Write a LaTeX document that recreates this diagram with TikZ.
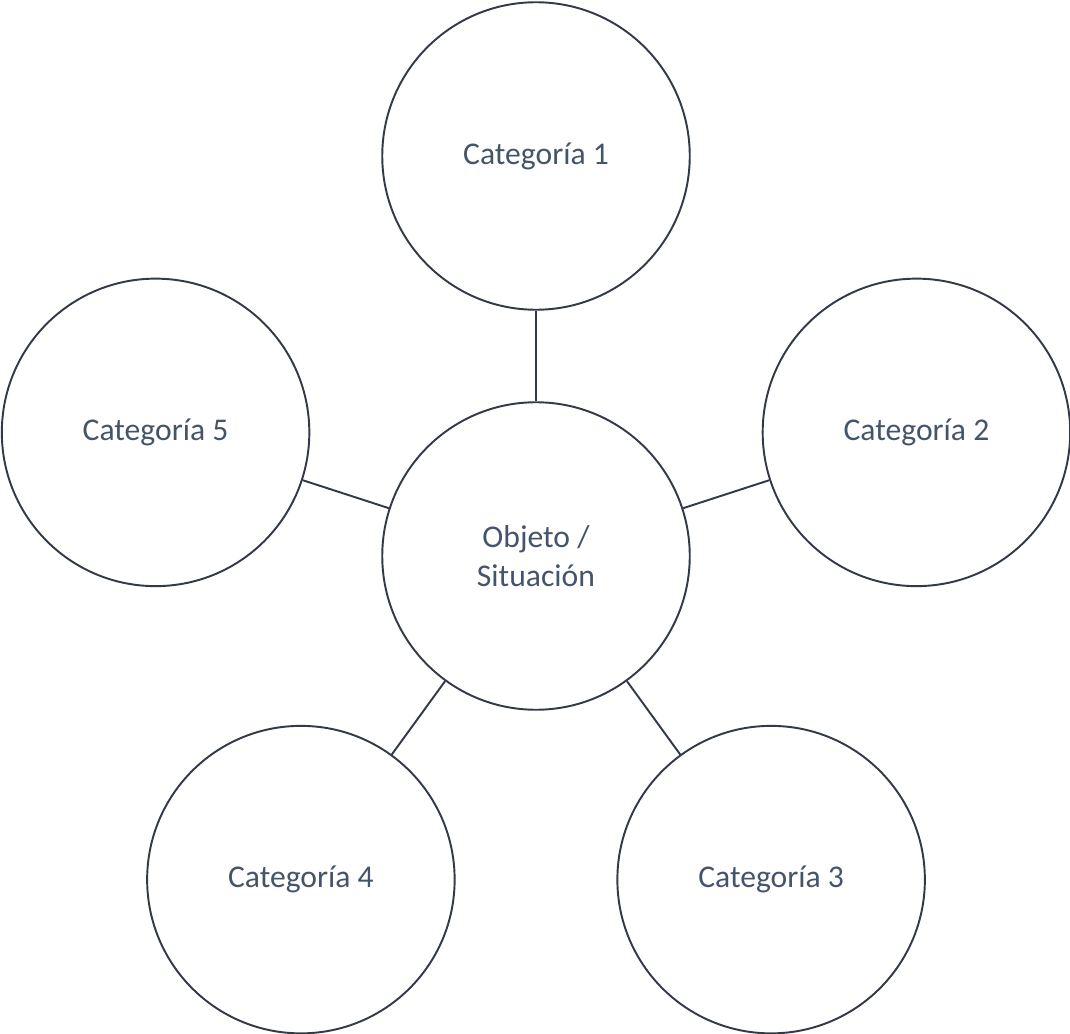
\documentclass[tikz,border=0pt]{standalone}
\usepackage{fontspec}
\setmainfont{Carlito}
\usepackage{tikz}
\tikzset{>=latex}
\definecolor{slategray}{RGB}{68,84,106}
\definecolor{darkline}{RGB}{50,58,72}

\begin{document}
\begin{tikzpicture}[cat/.style={draw=darkline, line width=1.1pt, circle, minimum size=6.15cm, text=slategray, font=\fontsize{18}{22.5}\selectfont, align=center}]
    \useasboundingbox (0,0) rectangle (21.4,-20.68);
    \node at (10.72,-11.12) [cat](O){Objeto /\\Situación};

    % categories around the centre
    \foreach \i/\a in {1/90,2/18,3/-54,4/-126,5/162}
    {
    \node at (O.center) [cat, shift={(\a:8)}](C\i){Categoría \i};
    \draw [darkline, line width=1.1pt] (O) -- (C\i);
    }
  \end{tikzpicture}
\end{document}
